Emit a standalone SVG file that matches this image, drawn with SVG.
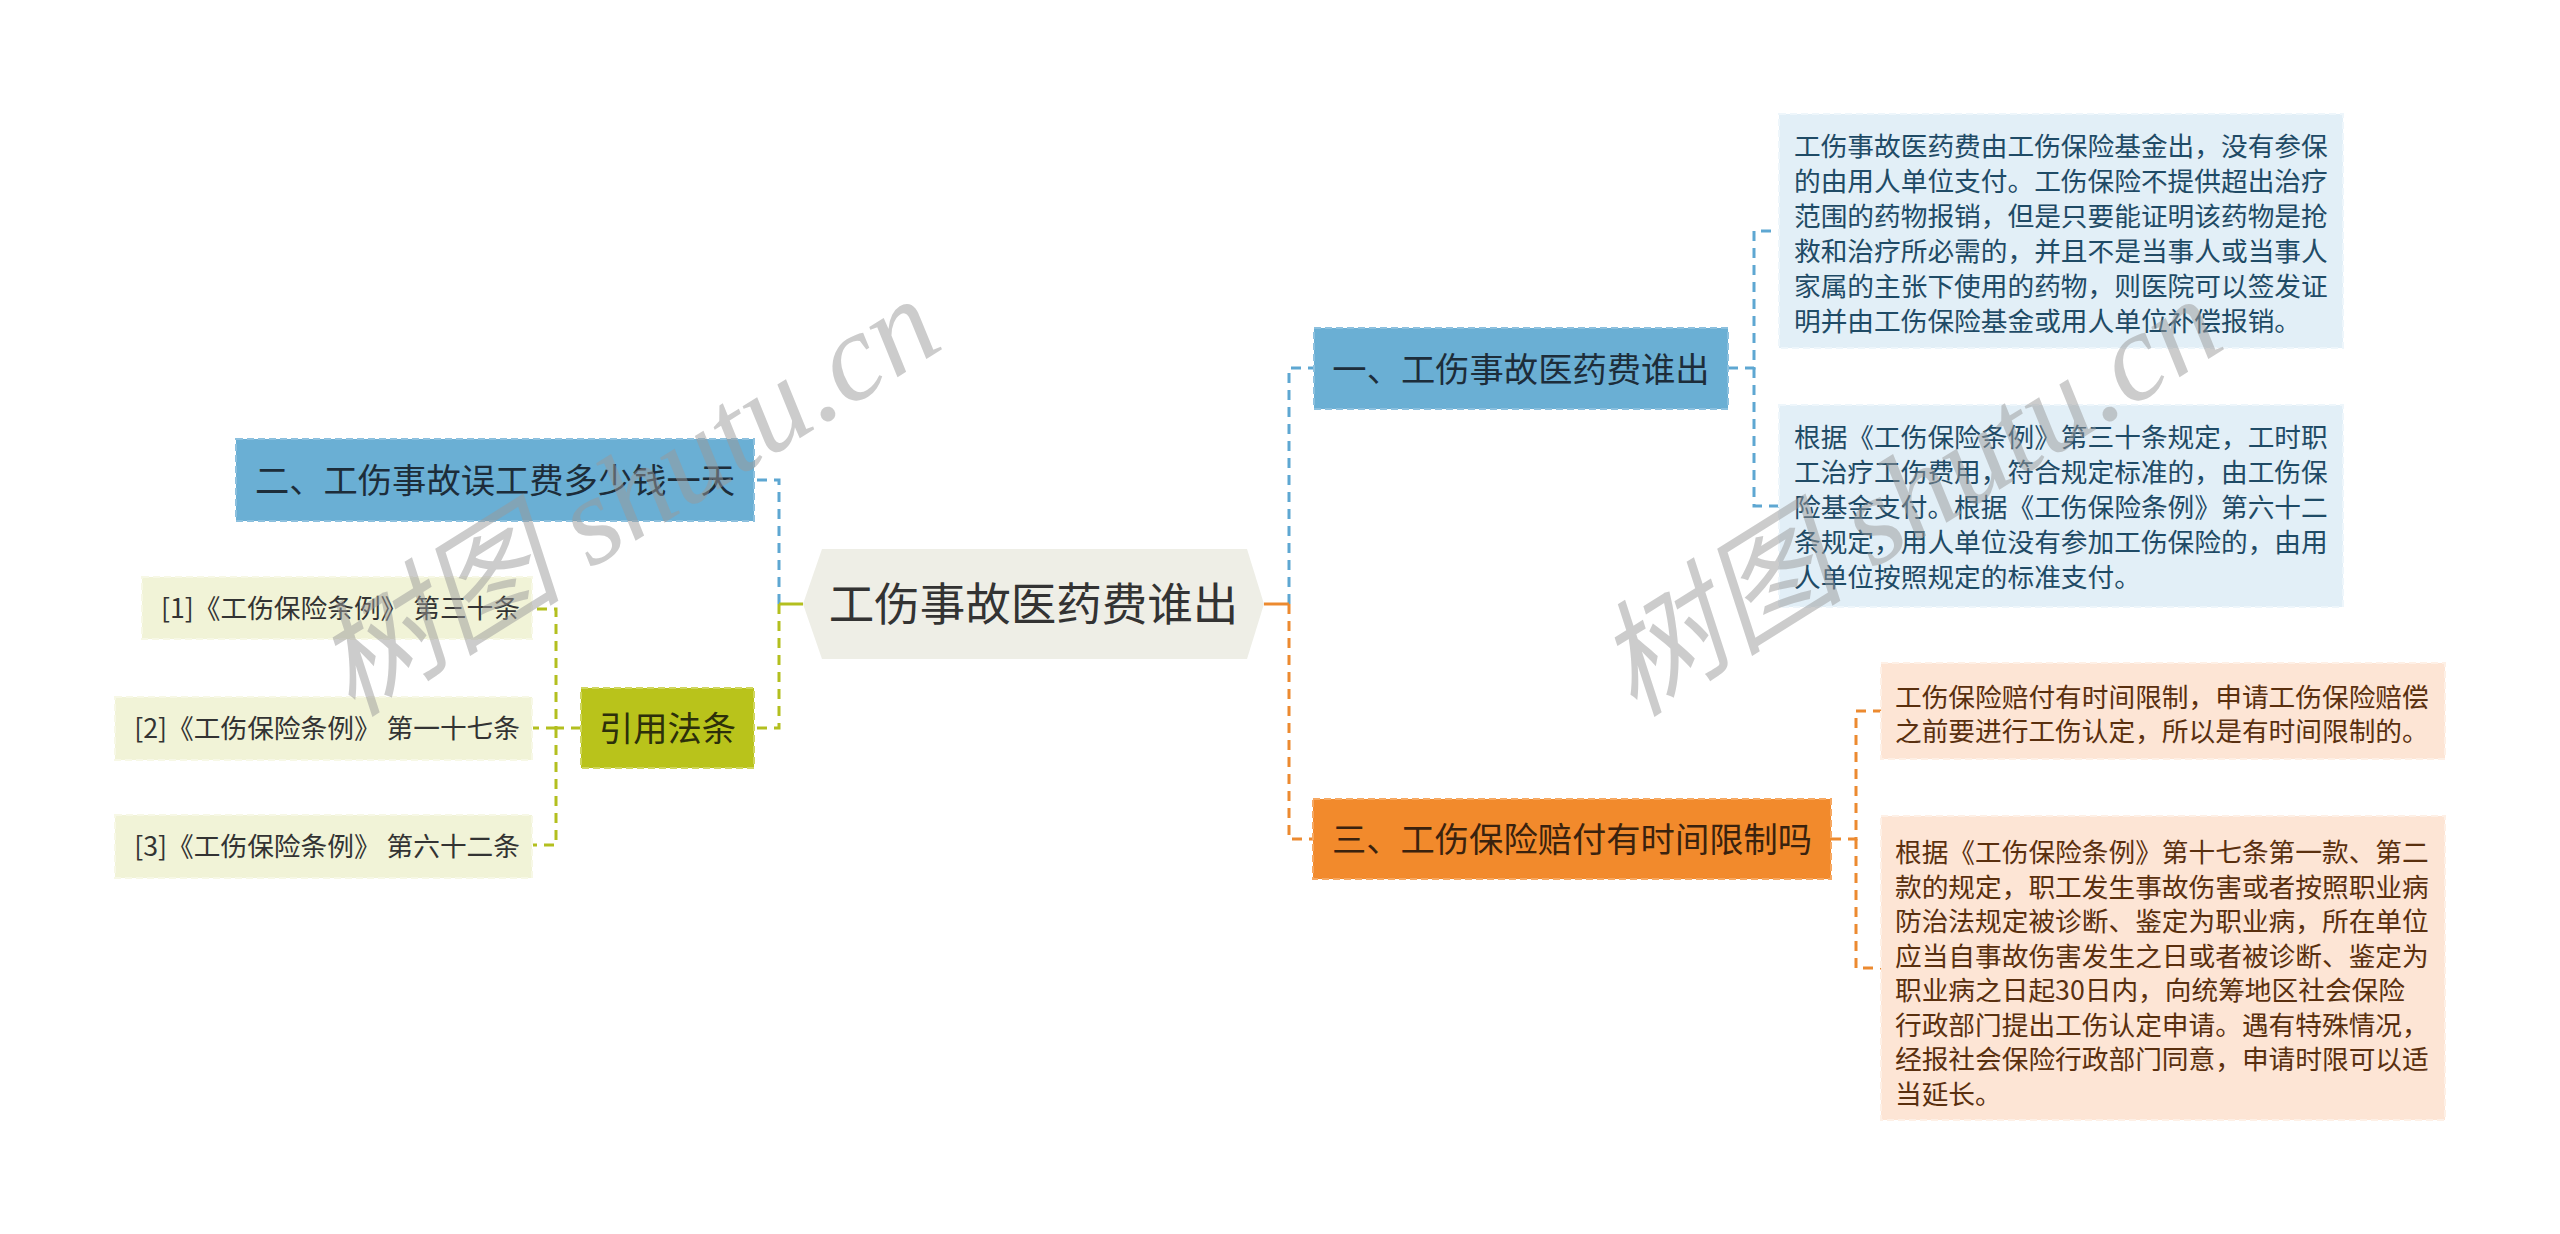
<svg xmlns="http://www.w3.org/2000/svg" width="2560" height="1234" viewBox="0 0 2560 1234">
<style>
text{font-family:"Noto Sans CJK SC","Liberation Sans",sans-serif}
.c{fill:none;stroke-width:3;stroke-dasharray:10 7}
.s{fill:none;stroke-width:3}
.blue{stroke:#5ea7d2}.org{stroke:#ec8a30}.grn{stroke:#b3bf1f}
.nb{fill:#6aafd4;stroke:#8cc0de;stroke-width:2;stroke-dasharray:7 4}
.no{fill:#f28a2c;stroke:#f6a862;stroke-width:2;stroke-dasharray:7 4}
.ng{fill:#b9c31b;stroke:#cfd65e;stroke-width:2;stroke-dasharray:7 4}
.bb{fill:#e2eff7;stroke:#eef6fb;stroke-width:2;stroke-dasharray:7 4}
.ob{fill:#fde5d5;stroke:#fef0e6;stroke-width:2;stroke-dasharray:7 4}
.lb{fill:#f1f3d7;stroke:#f7f8e6;stroke-width:2;stroke-dasharray:7 4}
.t34{font-size:34.3px;text-anchor:middle}
.t27{font-size:26.7px}
.wm{font-family:"Liberation Serif","Noto Sans CJK SC",serif;font-style:italic;font-size:125px;fill:#9a9a9a;opacity:0.5}
</style>
<rect width="2560" height="1234" fill="#ffffff"/>
<g id="connectors">
<path class="c blue" d="M779 604 V480 H754"/>
<path class="c grn" d="M779 604 V728 H754"/>
<path class="s grn" d="M803 604 H779"/>
<path class="c grn" d="M581 728 H556 V609 H533"/>
<path class="c grn" d="M556 728 H533"/>
<path class="c grn" d="M556 728 V845 H533"/>
<path class="c blue" d="M1289 604 V368 H1314"/>
<path class="c org" d="M1289 604 V839 H1313"/>
<path class="s org" d="M1264 604 H1289"/>
<path class="c blue" d="M1728 368 H1754 V231 H1779"/>
<path class="c blue" d="M1754 368 V506 H1779"/>
<path class="c org" d="M1831 839 H1856 V711 H1881"/>
<path class="c org" d="M1856 839 V968 H1881"/>
</g>
<g id="root">
<polygon points="803,604 822,549 1247,549 1264,604 1247,659 822,659" fill="#eeeee6"/>
<text x="1033.5" y="621" font-size="45.5" text-anchor="middle" fill="#333333">工伤事故医药费谁出</text>
</g>
<g id="n1">
<rect class="nb" x="1314" y="328" width="414" height="81"/>
<text class="t34" x="1521" y="381.5" fill="#1d2d3a">一、工伤事故医药费谁出</text>
</g>
<g id="n1a">
<rect class="bb" x="1779" y="114" width="564" height="234"/>
<text class="t27" fill="#1f4b66"><tspan x="1794" y="155.5">工伤事故医药费由工伤保险基金出，没有参保</tspan><tspan x="1794" y="190.5">的由用人单位支付。工伤保险不提供超出治疗</tspan><tspan x="1794" y="225.5">范围的药物报销，但是只要能证明该药物是抢</tspan><tspan x="1794" y="260.5">救和治疗所必需的，并且不是当事人或当事人</tspan><tspan x="1794" y="295.5">家属的主张下使用的药物，则医院可以签发证</tspan><tspan x="1794" y="330.5">明并由工伤保险基金或用人单位补偿报销。</tspan></text>
</g>
<g id="n1b">
<rect class="bb" x="1779" y="405" width="564" height="202"/>
<text class="t27" fill="#1f4b66"><tspan x="1794" y="447">根据《工伤保险条例》第三十条规定，工时职</tspan><tspan x="1794" y="482">工治疗工伤费用，符合规定标准的，由工伤保</tspan><tspan x="1794" y="517">险基金支付。根据《工伤保险条例》第六十二</tspan><tspan x="1794" y="552">条规定，用人单位没有参加工伤保险的，由用</tspan><tspan x="1794" y="587">人单位按照规定的标准支付。</tspan></text>
</g>
<g id="n2">
<rect class="nb" x="236" y="439" width="518" height="82"/>
<text class="t34" x="495" y="493" fill="#1d2d3a">二、工伤事故误工费多少钱一天</text>
</g>
<g id="n3">
<rect class="no" x="1313" y="799" width="518" height="80"/>
<text class="t34" x="1572" y="852" fill="#3a220e">三、工伤保险赔付有时间限制吗</text>
</g>
<g id="n3a">
<rect class="ob" x="1881" y="663" width="564" height="96"/>
<text class="t27" fill="#5a300f"><tspan x="1895" y="707">工伤保险赔付有时间限制，申请工伤保险赔偿</tspan><tspan x="1895" y="741">之前要进行工伤认定，所以是有时间限制的。</tspan></text>
</g>
<g id="n3b">
<rect class="ob" x="1881" y="816" width="564" height="304"/>
<text class="t27" fill="#5a300f"><tspan x="1895" y="862">根据《工伤保险条例》第十七条第一款、第二</tspan><tspan x="1895" y="896.5">款的规定，职工发生事故伤害或者按照职业病</tspan><tspan x="1895" y="931">防治法规定被诊断、鉴定为职业病，所在单位</tspan><tspan x="1895" y="965.5">应当自事故伤害发生之日或者被诊断、鉴定为</tspan><tspan x="1895" y="1000">职业病之日起30日内，向统筹地区社会保险</tspan><tspan x="1895" y="1034.5">行政部门提出工伤认定申请。遇有特殊情况，</tspan><tspan x="1895" y="1069">经报社会保险行政部门同意，申请时限可以适</tspan><tspan x="1895" y="1103.5">当延长。</tspan></text>
</g>
<g id="n4">
<rect class="ng" x="581" y="688" width="173" height="80"/>
<text class="t34" x="667.5" y="741" fill="#2c2f0a">引用法条</text>
</g>
<g id="n4a">
<rect class="lb" x="142" y="577" width="390" height="62"/>
<text class="t27" x="520" y="618" text-anchor="end" fill="#333333">[1]《工伤保险条例》 第三十条</text>
</g>
<g id="n4b">
<rect class="lb" x="115" y="697" width="417" height="63"/>
<text class="t27" x="520" y="738" text-anchor="end" fill="#333333">[2]《工伤保险条例》 第一十七条</text>
</g>
<g id="n4c">
<rect class="lb" x="115" y="815" width="417" height="63"/>
<text class="t27" x="520" y="856" text-anchor="end" fill="#333333">[3]《工伤保险条例》 第六十二条</text>
</g>
<g id="watermarks">
<text class="wm" transform="translate(352 718) rotate(-32)">树图 shutu.cn</text>
<text class="wm" transform="translate(1634 718) rotate(-32)">树图 shutu.cn</text>
</g>
</svg>
